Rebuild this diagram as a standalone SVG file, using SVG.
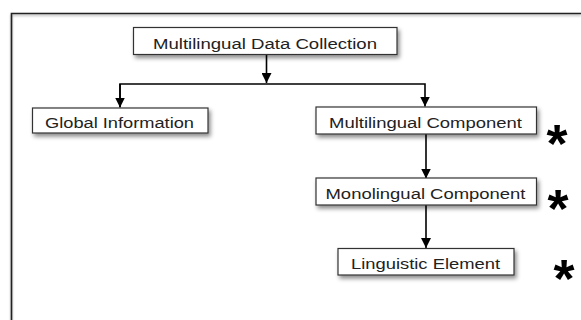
<svg xmlns="http://www.w3.org/2000/svg" width="581" height="320" viewBox="0 0 581 320">
<defs>
<filter id="sh" x="-10%" y="-30%" width="125%" height="180%">
<feDropShadow dx="2" dy="3" stdDeviation="2" flood-color="#000" flood-opacity="0.45"/>
</filter>
<filter id="fsh" x="-5%" y="-50%" width="110%" height="200%">
<feDropShadow dx="0" dy="1.5" stdDeviation="0.8" flood-color="#000" flood-opacity="0.35"/>
</filter>
<marker id="ah" viewBox="0 0 10 10" refX="10" refY="5" markerWidth="10" markerHeight="10" markerUnits="userSpaceOnUse" orient="auto">
<path d="M0,0 L10,5 L0,10 Z" fill="#000"/>
</marker>
</defs>
<style>
.box{fill:#fff;stroke:#333;stroke-width:1.2;filter:url(#sh)}
.lbl{font-family:"Liberation Sans",Arial,sans-serif;font-size:15.5px;fill:#222}
.con{fill:none;stroke:#000;stroke-width:1.6}
.star{font-family:"Liberation Sans",Arial,sans-serif;font-weight:bold;font-size:54px;fill:#000;text-anchor:middle}
</style>
<rect width="581" height="320" fill="#fff"/>
<path d="M11.5,320 V13.5 H581" fill="none" stroke="#222" stroke-width="1.6" filter="url(#fsh)"/>
<g id="connectors">
<path class="con" d="M266.5,55 V83" marker-end="url(#ah)"/>
<path class="con" d="M120,107 V84 H425 V106.5" marker-end="url(#ah)"/>
<path class="con" d="M120,84 V107.5" marker-end="url(#ah)"/>
<path class="con" d="M426,134 V178.5" marker-end="url(#ah)"/>
<path class="con" d="M426,205 V248" marker-end="url(#ah)"/>
</g>
<g id="n_collection">
<rect class="box" x="133.5" y="27.5" width="263.5" height="27"/>
<text class="lbl" x="153" y="49" textLength="224" lengthAdjust="spacingAndGlyphs">Multilingual Data Collection</text>
</g>
<g id="n_global">
<rect class="box" x="32.5" y="108" width="175.5" height="25"/>
<text class="lbl" x="45" y="128" textLength="149" lengthAdjust="spacingAndGlyphs">Global Information</text>
</g>
<g id="n_multi">
<rect class="box" x="316" y="107" width="220.5" height="27"/>
<text class="lbl" x="329" y="127.5" textLength="193" lengthAdjust="spacingAndGlyphs">Multilingual Component</text>
</g>
<g id="n_mono">
<rect class="box" x="316" y="178" width="220.5" height="27"/>
<text class="lbl" x="325.5" y="199" textLength="200" lengthAdjust="spacingAndGlyphs">Monolingual Component</text>
</g>
<g id="n_ling">
<rect class="box" x="338" y="248.5" width="176" height="26.5"/>
<text class="lbl" x="351" y="269" textLength="149" lengthAdjust="spacingAndGlyphs">Linguistic Element</text>
</g>
<g id="stars">
<text class="star" x="557" y="162">*</text>
<text class="star" x="558" y="227">*</text>
<text class="star" x="564" y="297">*</text>
</g>
</svg>
